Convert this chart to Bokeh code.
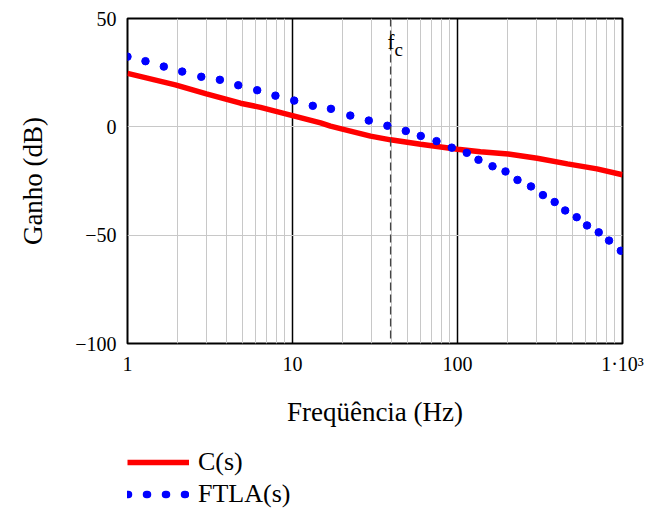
from bokeh.plotting import figure
from bokeh.layouts import column
from bokeh.models import FixedTicker, Span, Label, Legend, LegendItem, Range1d
from bokeh.embed import file_html
from bokeh.resources import INLINE

# ---- data ----
c_freq = [1, 1.95, 3.01, 4.84, 6.4, 10, 14.8, 17.0, 19.5, 29.7, 39.3, 59.7, 100,
          137.8, 203, 304, 464, 700, 1000]
c_gain = [24.7, 19.4, 15.2, 10.9, 9.0, 5.2, 1.8, 0.3, -0.8, -4.3, -6.0, -8.0, -10.3,
          -11.5, -12.5, -14.5, -17.1, -19.4, -22.1]

ftla_freq = [1.0, 1.285, 1.66, 2.145, 2.80, 3.63, 4.69, 6.11, 7.88, 10.24, 13.27, 17.1,
             22.4, 29.0, 37.6, 48.6, 59.9, 74.6, 92.3, 113.8, 134, 163, 195.4, 231,
             278.8, 329.4, 388, 449.4, 527.7, 609.4, 717.7, 828.7, 977]
ftla_gain = [32.4, 30.3, 27.8, 25.5, 23.1, 21.7, 19.2, 16.9, 14.4, 12.1, 9.7, 8.3,
             5.2, 2.9, 0.5, -1.9, -4.2, -6.6, -9.6, -12.0, -15.2, -18.2, -20.6, -24.5,
             -27.5, -31.5, -34.7, -38.6, -41.7, -45.5, -48.7, -52.5, -57.2]

fc = 39.3

x_tick_vals = [1, 10, 100, 1000]
x_tick_labels = ["1", "10", "100", "1\u00b710\u00b3"]
x_minor_vals = [m * d for d in (1, 10, 100) for m in range(2, 10)]
y_tick_vals = [-100, -50, 0, 50]
y_tick_labels = ["\u2212100", "\u221250", "0", "50"]

legend_labels = ["C(s)", "FTLA(s)"]

FONT = "Liberation Serif"

# ---- main chart ----
p = figure(width=647, height=436, x_axis_type="log", x_range=(1, 1000), y_range=(-100, 50),
           output_backend="svg", toolbar_location=None,
           min_border_left=127, min_border_right=25, min_border_top=18, min_border_bottom=93)
p.background_fill_color = "white"
p.border_fill_color = "white"
p.outline_line_color = "black"
p.outline_line_width = 2

xt = FixedTicker(ticks=x_tick_vals, minor_ticks=x_minor_vals)
yt = FixedTicker(ticks=y_tick_vals)
p.xaxis.ticker = xt
p.xgrid.ticker = xt
p.yaxis.ticker = yt
p.ygrid.ticker = yt
p.xaxis.major_label_overrides = dict(zip(x_tick_vals, x_tick_labels))
p.yaxis.major_label_overrides = dict(zip(y_tick_vals, y_tick_labels))

for ax in (p.xaxis, p.yaxis):
    ax.axis_line_color = None
    ax.major_tick_line_color = None
    ax.minor_tick_line_color = None
    ax.major_label_text_font = FONT
    ax.major_label_text_font_size = "20px"
    ax.major_label_text_color = "black"
    ax.axis_label_text_font = FONT
    ax.axis_label_text_font_size = "27px"
    ax.axis_label_text_font_style = "normal"
    ax.axis_label_text_color = "black"

p.xaxis.axis_label = "Freq\u00fc\u00eancia (Hz)"
p.yaxis.axis_label = "Ganho (dB)"
p.xaxis.major_label_standoff = 3
p.xaxis.axis_label_standoff = 19
p.yaxis.major_label_standoff = 5
p.yaxis.axis_label_standoff = 24

p.xgrid.grid_line_color = "black"
p.xgrid.grid_line_width = 1.5
p.xgrid.minor_grid_line_color = "#c8c8c8"
p.xgrid.minor_grid_line_width = 1
p.ygrid.grid_line_color = "#c8c8c8"
p.ygrid.grid_line_width = 1

p.add_layout(Span(location=fc, dimension="height", line_color="#444444",
                  line_dash="8 4", line_width=1.3))
p.add_layout(Label(x=fc, y=39.3, text="f", x_offset=-3, text_font=FONT,
                   text_font_size="21px", text_color="black", text_align="left",
                   text_baseline="alphabetic"))
p.add_layout(Label(x=fc, y=35.9, text="c", x_offset=4, text_font=FONT,
                   text_font_size="19px", text_color="black", text_align="left",
                   text_baseline="alphabetic"))

p.line(c_freq, c_gain, line_color="red", line_width=5.5)
p.scatter(ftla_freq, ftla_gain, size=7.5, fill_color="blue", line_color="blue")

# ---- legend strip (the same series, drawn outside its visible range) ----
lg = figure(width=647, height=74, x_range=Range1d(2000, 3000), y_range=Range1d(200, 300),
            x_axis_location=None, y_axis_location=None, output_backend="svg",
            toolbar_location=None, min_border=0)
lg.outline_line_color = None
lg.grid.visible = False
lg.background_fill_color = "white"
lg.border_fill_color = "white"
lr_c = lg.line(c_freq, c_gain, line_color="red", line_width=5.5)
lr_f = lg.line(ftla_freq, ftla_gain, line_color="blue", line_width=7.5, line_dash="1 18",
               line_cap="round")

legend = Legend(items=[LegendItem(label=legend_labels[0], renderers=[lr_c]),
                       LegendItem(label=legend_labels[1], renderers=[lr_f])],
                location=(0, 0), orientation="vertical",
                border_line_color=None, background_fill_alpha=0,
                padding=1, margin=0, spacing=0,
                glyph_width=62, glyph_height=32, label_height=32, label_standoff=9,
                label_text_font=FONT, label_text_font_size="26px", label_text_color="black")
lg.add_layout(legend)

layout = column(p, lg, spacing=0)
open("out.html", "w").write(file_html(layout, INLINE))
